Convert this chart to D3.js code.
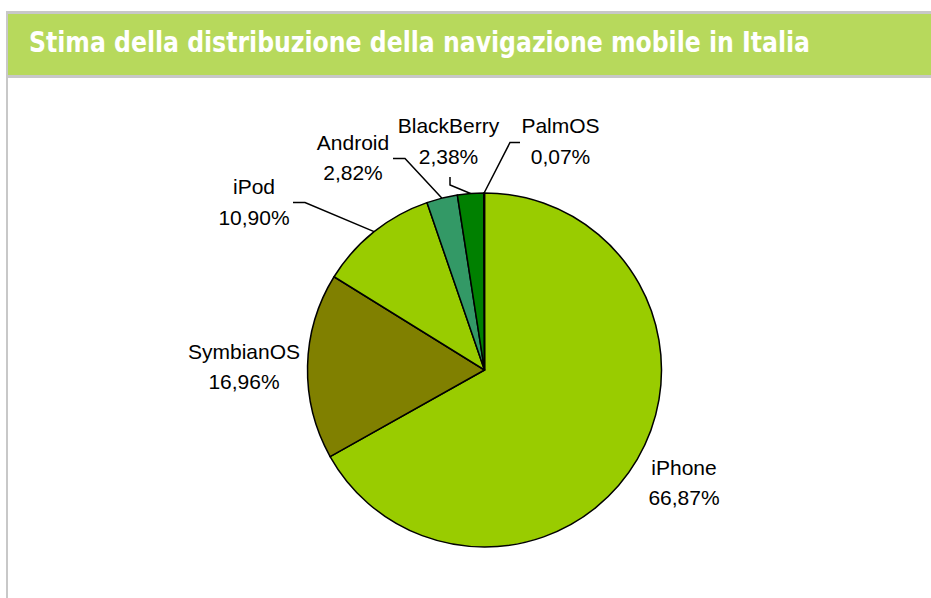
<!DOCTYPE html>
<html>
<head>
<meta charset="utf-8">
<script src="https://cdn.jsdelivr.net/npm/d3@7/dist/d3.min.js"></script>
<style>
  html, body { margin: 0; padding: 0; background: #fff; }
  svg { display: block; }
</style>
</head>
<body>
<svg id="chart" width="931" height="598"></svg>
<script>
// ---- data ----
const title = "Stima della distribuzione della navigazione mobile in Italia";
const categories = ["iPhone", "SymbianOS", "iPod", "Android", "BlackBerry", "PalmOS"];
const shares = [66.87, 16.96, 10.90, 2.82, 2.38, 0.07];
const sliceColors = ["#99cc00", "#808000", "#99cc00", "#339966", "#008000", "#000000"];

// ---- layout (positions only) ----
const W = 931, H = 598;
const cx = 484.5, cy = 370, R = 177;
// label anchor: x center, first baseline; leader: elbow & end points (null = no leader)
const labelLayout = [
  { x: 684, y: 474.5, leader: null },
  { x: 244, y: 358.5, leader: null },
  { x: 254, y: 194,   leader: [[305, 202.5], [293, 202.5]] },
  { x: 353, y: 149.5, leader: [[405, 158.5], [393, 158.5]] },
  { x: 448.5, y: 133, leader: [[450, 185], [450, 177]] },
  { x: 560.5, y: 133, leader: [[510, 142.5], [520, 142.5]] }
];
const lineGap = 30.5;

const svg = d3.select("#chart");

// frame
svg.append("rect").attr("x", 6).attr("y", 11).attr("width", 2).attr("height", H - 11).attr("fill", "#c8c8c8");
svg.append("rect").attr("x", 6).attr("y", 11).attr("width", W - 6).attr("height", 3).attr("fill", "#c8c8c8");
svg.append("rect").attr("x", 8).attr("y", 14).attr("width", W - 8).attr("height", 61).attr("fill", "#b7d95c");
svg.append("rect").attr("x", 6).attr("y", 75).attr("width", W - 6).attr("height", 3).attr("fill", "#c8c8c8");

svg.append("text")
  .attr("x", 29).attr("y", 52)
  .attr("font-family", "'DejaVu Sans Condensed', 'DejaVu Sans', sans-serif")
  .attr("font-weight", "bold")
  .attr("font-size", 28)
  .attr("fill", "#ffffff")
  .attr("textLength", 781)
  .attr("lengthAdjust", "spacingAndGlyphs")
  .text(title);

// pie
const data = categories.map((c, i) => ({ name: c, value: shares[i], color: sliceColors[i], layout: labelLayout[i] }));
const pie = d3.pie().sort(null).value(d => d.value).startAngle(0).endAngle(2 * Math.PI);
const arcs = pie(data);
const arc = d3.arc().innerRadius(0).outerRadius(R);

const g = svg.append("g").attr("transform", `translate(${cx},${cy})`);
g.selectAll("path.slice").data(arcs).join("path")
  .attr("class", "slice")
  .attr("d", arc)
  .attr("fill", d => d.data.color)
  .attr("stroke", "#000")
  .attr("stroke-width", 1.5)
  .attr("stroke-linejoin", "round");

// leaders
arcs.forEach(a => {
  const L = a.data.layout;
  if (!L.leader) return;
  const mid = (a.startAngle + a.endAngle) / 2;
  const p0 = [cx + R * Math.sin(mid), cy - R * Math.cos(mid)];
  const pts = [p0, L.leader[0], L.leader[1]];
  svg.append("path")
    .attr("d", d3.line()(pts))
    .attr("fill", "none")
    .attr("stroke", "#000")
    .attr("stroke-width", 1.5);
});

// labels
const itLocale = d3.formatLocale({ decimal: ",", thousands: ".", grouping: [3], currency: ["€", ""] });
const fmt = itLocale.format(".2f");
const labels = svg.append("g")
  .attr("font-family", "'Liberation Sans', Arial, sans-serif")
  .attr("font-size", 21)
  .attr("fill", "#000")
  .attr("text-anchor", "middle");
arcs.forEach(a => {
  const L = a.data.layout;
  const t = labels.append("text").attr("x", L.x).attr("y", L.y);
  t.append("tspan").attr("x", L.x).attr("y", L.y).text(a.data.name);
  t.append("tspan").attr("x", L.x).attr("y", L.y + lineGap).text(fmt(a.data.value) + "%");
});
</script>
</body>
</html>
